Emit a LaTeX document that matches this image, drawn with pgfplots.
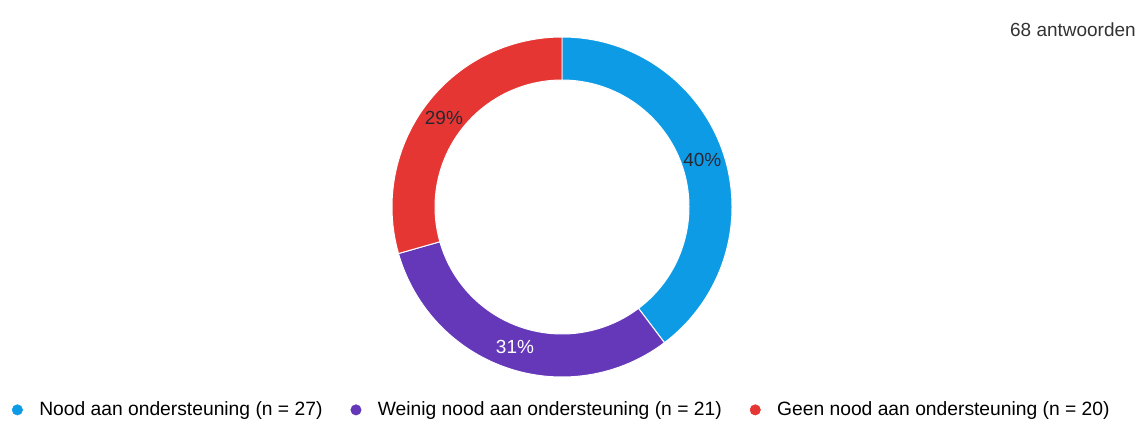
\documentclass[border=0pt]{standalone}
\usepackage{pgfplots}
\pgfplotsset{compat=1.18}
\usepackage{pgfplotstable}
\usepackage{fontspec}
\setmainfont{Liberation Sans}

\definecolor{cBlue}{RGB}{14,155,229}
\definecolor{cPurple}{RGB}{100,56,184}
\definecolor{cRed}{RGB}{229,54,52}
\definecolor{cLabel}{RGB}{40,40,50}

% answers per group
\pgfplotstableread{
group n
Nood 27
Weinig 21
Geen 20
}\answers

\begin{document}
\begin{tikzpicture}
\pgfplotstablegetelem{0}{n}\of\answers \let\nA\pgfplotsretval
\pgfplotstablegetelem{1}{n}\of\answers \let\nB\pgfplotsretval
\pgfplotstablegetelem{2}{n}\of\answers \let\nC\pgfplotsretval
\pgfmathsetmacro\tot{\nA+\nB+\nC}
% clockwise from the top
\pgfmathsetmacro\aA{90}
\pgfmathsetmacro\aB{\aA-360*\nA/\tot}
\pgfmathsetmacro\aC{\aB-360*\nB/\tot}
\pgfmathsetmacro\aD{\aC-360*\nC/\tot}
\pgfmathtruncatemacro\pA{round(100*\nA/\tot)}
\pgfmathtruncatemacro\pB{round(100*\nB/\tot)}
\pgfmathtruncatemacro\pC{round(100*\nC/\tot)}
\pgfmathsetmacro\mA{(\aA+\aB)/2}
\pgfmathsetmacro\mB{(\aB+\aC)/2}
\pgfmathsetmacro\mC{(\aC+\aD)/2}
\def\cx{562}\def\cy{216}\def\Ro{170}\def\Ri{127}\def\Rl{148}
\newcommand\slice[3]{%
  \fill[#3, draw=white, line width=0.7pt]
    (axis cs:{\cx+\Ro*cos(#1)},{\cy+\Ro*sin(#1)})
    arc[start angle=#1, end angle=#2, radius=\Ro*0.25mm]
    -- (axis cs:{\cx+\Ri*cos(#2)},{\cy+\Ri*sin(#2)})
    arc[start angle=#2, end angle=#1, radius=\Ri*0.25mm] -- cycle;}
\begin{axis}[
  width=284.5mm, height=105.75mm, scale only axis,
  xmin=0, xmax=1138, ymin=0, ymax=423,
  hide axis, clip=false,
  legend columns=-1,
  legend style={at={(axis description cs:0.494,0.031)}, anchor=center,
    draw=none, fill=none, font=\fontsize{13.7}{15}\selectfont,
    /tikz/every odd column/.append style={column sep=3.4mm},
    /tikz/every even column/.append style={column sep=6.3mm}},
  legend image code/.code={\fill[#1] (0mm,0mm) circle (1.3mm);},
]
\path (rel axis cs:0,0) rectangle (rel axis cs:1,1);
\addlegendimage{cBlue}
\addlegendentry{Nood aan ondersteuning (n = 27)}
\addlegendimage{cPurple}
\addlegendentry{Weinig nood aan ondersteuning (n = 21)}
\addlegendimage{cRed}
\addlegendentry{Geen nood aan ondersteuning (n = 20)}

\slice{\aA}{\aB}{cBlue}
\slice{\aB}{\aC}{cPurple}
\slice{\aC}{\aD}{cRed}

\node[font=\fontsize{13.5}{15}\selectfont, text=cLabel] at (axis cs:{\cx+\Rl*cos(\mA)},{\cy+\Rl*sin(\mA)}) {\pA\%};
\node[font=\fontsize{13.5}{15}\selectfont, text=white] at (axis cs:{\cx+\Rl*cos(\mB)},{\cy+\Rl*sin(\mB)}) {\pB\%};
\node[font=\fontsize{13.5}{15}\selectfont, text=cLabel] at (axis cs:{\cx+\Rl*cos(\mC)},{\cy+\Rl*sin(\mC)}) {\pC\%};

\node[anchor=east, font=\fontsize{13.5}{15}\selectfont, text=black!80, inner sep=0pt] at (axis cs:1136,393) {68 antwoorden};
\end{axis}
\end{tikzpicture}
\end{document}
